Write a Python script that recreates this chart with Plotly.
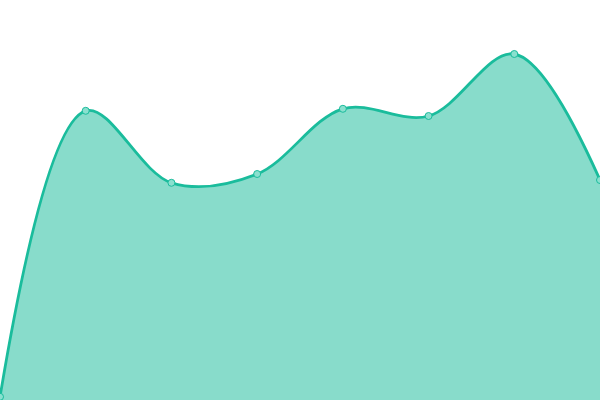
import plotly.graph_objects as go

# eight evenly spaced samples (0-100 scale)
x_vals = [0, 1, 2, 3, 4, 5, 6, 7]
y_vals = [0.8, 72.3, 54.3, 56.5, 72.8, 71.0, 86.5, 55.0]

LINE = "#1abc9c"
FILL = "rgba(26,188,156,0.52)"
MARKER_FILL = "#8ae0cf"

fig = go.Figure()
fig.add_trace(go.Scatter(
    x=x_vals, y=y_vals,
    mode="lines+markers",
    line=dict(color=LINE, width=2.8, shape="spline", smoothing=1.0),
    fill="tozeroy",
    fillcolor=FILL,
    marker=dict(size=7, color=MARKER_FILL, line=dict(color=LINE, width=1)),
    cliponaxis=False,
    hoverinfo="skip",
))

fig.update_layout(
    width=600, height=400,
    margin=dict(l=0, r=0, t=0, b=0),
    paper_bgcolor="white",
    plot_bgcolor="white",
    showlegend=False,
)
fig.update_xaxes(range=[0, 7], visible=False, showgrid=False, zeroline=False)
fig.update_yaxes(range=[0, 100], visible=False, showgrid=False, zeroline=False)

# drop the default body margin so the chart sits flush in the window
fig.write_html(
    "out.html",
    config={"displayModeBar": False},
    post_script="document.body.style.margin='0';",
)
